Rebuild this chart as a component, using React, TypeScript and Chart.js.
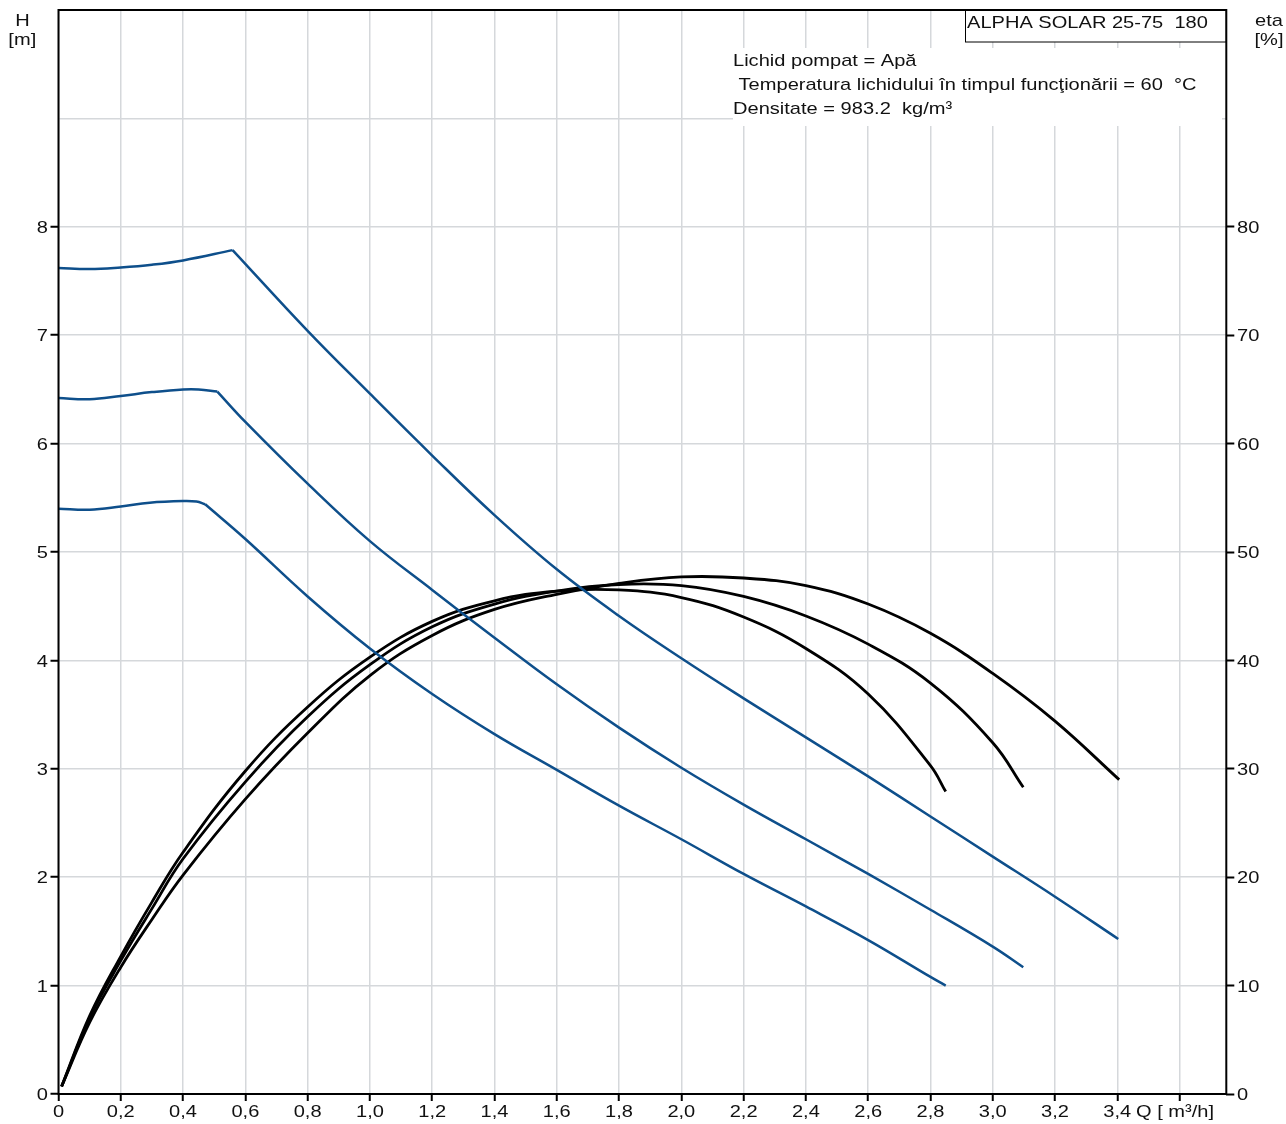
import { useEffect, useRef } from "react";
import { Chart, registerables, type ChartDataset, type Plugin } from "chart.js";

Chart.register(...registerables);

const FONT = '"Liberation Sans", Arial, Helvetica, sans-serif';
const BLUE = "#0E4F8B";
const GRID = "#D5D8DB";
const TEXT = "#111";
const STRETCH = 1.18; // the reference text is drawn wider than plain Arial

// head curves H [m] vs Q [m³/h]; first part is flat up to the knee, then falls
const h1Q = [0, 0.1, 0.2, 0.3, 0.4, 0.559, 0.8, 1.0, 1.2, 1.4, 1.6, 1.8, 2.0, 2.2, 2.4, 2.6, 2.8, 3.0, 3.2, 3.403];
const h1H = [7.62, 7.61, 7.625, 7.65, 7.69, 7.785, 7.04, 6.46, 5.89, 5.34, 4.84, 4.41, 4.02, 3.65, 3.29, 2.93, 2.56, 2.19, 1.82, 1.43];
const h1Knee = 5;

const h2Q = [0, 0.1, 0.2, 0.3, 0.4, 0.45, 0.51, 0.6, 0.8, 1.0, 1.2, 1.4, 1.6, 1.8, 2.0, 2.2, 2.4, 2.6, 2.8, 3.0, 3.098];
const h2H = [6.42, 6.41, 6.44, 6.475, 6.5, 6.5, 6.48, 6.2, 5.63, 5.1, 4.65, 4.21, 3.78, 3.38, 3.01, 2.67, 2.35, 2.03, 1.7, 1.36, 1.17];
const h2Knee = 6;

const h3Q = [0, 0.1, 0.2, 0.293, 0.4, 0.443, 0.471, 0.6, 0.8, 1.0, 1.2, 1.4, 1.6, 1.8, 2.0, 2.2, 2.4, 2.6, 2.8, 2.849];
const h3H = [5.4, 5.39, 5.42, 5.455, 5.47, 5.465, 5.44, 5.12, 4.59, 4.11, 3.69, 3.32, 2.99, 2.66, 2.35, 2.03, 1.73, 1.42, 1.08, 1.0];
const h3Knee = 6;

// efficiency curves eta [%]
const etaAQ = [0.01, 0.1, 0.2, 0.3, 0.4, 0.6, 0.8, 1.0, 1.2, 1.4, 1.6, 1.8, 2.0, 2.2, 2.4, 2.6, 2.8, 2.849];
const etaA = [0.7, 7.2, 12.7, 17.7, 22.3, 29.8, 35.7, 40.3, 43.6, 45.5, 46.4, 46.5, 45.8, 44.0, 41.1, 36.9, 30.3, 27.9];

const etaBQ = [0.01, 0.1, 0.2, 0.3, 0.4, 0.6, 0.8, 1.0, 1.2, 1.4, 1.6, 1.8, 2.0, 2.2, 2.4, 2.6, 2.8, 3.0, 3.098];
const etaB = [0.7, 7.0, 12.3, 17.1, 21.7, 28.8, 34.8, 39.6, 43.1, 45.2, 46.4, 47.0, 46.9, 45.9, 44.1, 41.5, 37.9, 32.4, 28.3];

const etaCQ = [0.01, 0.1, 0.2, 0.3, 0.4, 0.6, 0.8, 1.0, 1.2, 1.4, 1.6, 1.8, 2.0, 2.2, 2.4, 2.6, 2.8, 3.0, 3.2, 3.406];
const etaC = [0.7, 6.6, 11.7, 16.1, 20.2, 27.2, 33.3, 38.6, 42.3, 44.7, 46.1, 47.1, 47.7, 47.6, 46.9, 45.2, 42.5, 38.8, 34.4, 29.0];

const pumpTitle = "ALPHA SOLAR 25-75  180";
const infoLines = [
  "Lichid pompat = Apă",
  " Temperatura lichidului în timpul funcţionării = 60  °C",
  "Densitate = 983.2  kg/m³",
];
const qAxisTitle = "Q [ m³/h]";

function pts(qs: number[], vs: number[]) {
  return qs.map((q, i) => ({ x: q, y: vs[i] }));
}

function headSets(qs: number[], hs: number[], knee: number): ChartDataset<"line">[] {
  const base = {
    borderColor: BLUE,
    borderWidth: 2.5,
    pointRadius: 0,
    fill: false,
    tension: 0.4,
    yAxisID: "y",
  };
  return [
    { ...base, label: "H", data: pts(qs.slice(0, knee + 1), hs.slice(0, knee + 1)) },
    { ...base, label: "H", data: pts(qs.slice(knee), hs.slice(knee)) },
  ];
}

function etaSet(qs: number[], es: number[]): ChartDataset<"line"> {
  return {
    label: "eta",
    data: pts(qs, es),
    borderColor: "#000",
    borderWidth: 2.8,
    pointRadius: 0,
    fill: false,
    tension: 0.4,
    yAxisID: "y1",
  };
}

// wide text, as in the reference
function wideText(ctx: CanvasRenderingContext2D, t: string, x: number, y: number, align: CanvasTextAlign) {
  ctx.save();
  ctx.translate(x, y);
  ctx.scale(STRETCH, 1);
  ctx.textAlign = align;
  ctx.fillText(t, 0, 0);
  ctx.restore();
}

function fmtQ(v: number) {
  if (v === 0) return "0";
  return v.toFixed(1).replace(".", ",");
}

const decorations: Plugin = {
  id: "decorations",
  beforeDraw(chart) {
    const { ctx, width, height } = chart;
    ctx.save();
    ctx.fillStyle = "#fff";
    ctx.fillRect(0, 0, width, height);
    ctx.restore();
  },
  afterDraw(chart) {
    const { ctx, chartArea: a, scales } = chart;
    ctx.save();
    ctx.font = `17px ${FONT}`;
    ctx.textBaseline = "alphabetic";

    // info text block on white ground
    ctx.fillStyle = "#fff";
    ctx.fillRect(733, 48, 1222 - 733, 78);
    ctx.fillStyle = TEXT;
    infoLines.forEach((t, i) => wideText(ctx, t, 733, 65.5 + i * 24, "left"));

    // pump title box
    ctx.fillStyle = "#fff";
    ctx.fillRect(965, a.top, a.right - 965, 32);
    ctx.strokeStyle = "#000";
    ctx.lineWidth = 1;
    ctx.strokeRect(965.5, a.top, a.right - 965.5, 32);
    ctx.fillStyle = TEXT;
    wideText(ctx, pumpTitle, 967, 28.3, "left");

    // frame
    ctx.lineWidth = 2;
    ctx.strokeRect(a.left, a.top, a.right - a.left, a.bottom - a.top);

    // tick labels
    const sx = scales.x;
    sx.ticks.forEach((t) => {
      if (t.value > 3.5) return;
      wideText(ctx, fmtQ(t.value), sx.getPixelForValue(t.value), 1116.5, "center");
    });
    const sy = scales.y;
    sy.ticks.forEach((t) => {
      if (t.value > 8) return;
      wideText(ctx, String(t.value), 48, sy.getPixelForValue(t.value) + 6.1, "right");
    });
    const sy1 = scales.y1;
    sy1.ticks.forEach((t) => {
      if (t.value > 80) return;
      wideText(ctx, String(t.value), 1237, sy1.getPixelForValue(t.value) + 6.1, "left");
    });

    // axis names
    wideText(ctx, "H", 22.5, 26, "center");
    wideText(ctx, "[m]", 22.3, 44.7, "center");
    wideText(ctx, "eta", 1269, 26, "center");
    wideText(ctx, "[%]", 1269, 44.7, "center");
    wideText(ctx, qAxisTitle, 1136, 1116.5, "left");
    ctx.restore();
  },
};

function ChartView() {
  const canvasRef = useRef<HTMLCanvasElement>(null);

  useEffect(() => {
    if (!canvasRef.current) return;
    Chart.defaults.font.family = FONT;
    Chart.defaults.font.size = 17;
    Chart.defaults.color = TEXT;

    const datasets: ChartDataset<"line">[] = [
      ...headSets(h1Q, h1H, h1Knee),
      ...headSets(h2Q, h2H, h2Knee),
      ...headSets(h3Q, h3H, h3Knee),
      etaSet(etaAQ, etaA),
      etaSet(etaBQ, etaB),
      etaSet(etaCQ, etaC),
    ];

    const chart = new Chart(canvasRef.current, {
      type: "line",
      data: { datasets },
      options: {
        responsive: false,
        animation: false,
        devicePixelRatio: 1,
        layout: { padding: { top: 10, left: 0, right: 0, bottom: 0 } },
        plugins: { legend: { display: false }, tooltip: { enabled: false } },
        scales: {
          x: {
            type: "linear",
            min: 0,
            max: 3.75,
            border: { display: false },
            grid: { color: GRID, lineWidth: 1.5, tickLength: 7, tickColor: "#000", tickWidth: 2 },
            ticks: { display: false, stepSize: 0.2, includeBounds: false, autoSkip: false, maxRotation: 0 },
            afterFit: (s) => {
              s.height = 30;
              s.paddingLeft = 0;
              s.paddingRight = 0;
            },
          },
          y: {
            type: "linear",
            position: "left",
            min: 0,
            max: 10,
            border: { display: false },
            grid: {
              color: GRID,
              lineWidth: 1.5,
              tickLength: 8,
              tickWidth: 2,
              tickColor: (c) => (c.tick && c.tick.value <= 8 ? "#000" : "rgba(0,0,0,0)"),
            },
            ticks: { display: false, stepSize: 1, autoSkip: false },
            afterFit: (s) => {
              s.width = 58.5;
              s.paddingTop = 0;
              s.paddingBottom = 0;
            },
          },
          y1: {
            type: "linear",
            position: "right",
            min: 0,
            max: 100,
            border: { display: false },
            grid: {
              drawOnChartArea: false,
              tickLength: 8,
              tickWidth: 2,
              tickColor: (c) => (c.tick && c.tick.value <= 80 ? "#000" : "rgba(0,0,0,0)"),
            },
            ticks: { display: false, stepSize: 10, autoSkip: false },
            afterFit: (s) => {
              s.width = 59.7;
              s.paddingTop = 0;
              s.paddingBottom = 0;
            },
          },
        },
      },
      plugins: [decorations],
    });
    return () => {
      chart.destroy();
    };
  }, []);

  return (
    <div style={{ position: "fixed", left: 0, top: 0, width: 1286, height: 1124, background: "#fff" }}>
      <canvas ref={canvasRef} width={1286} height={1124} style={{ width: 1286, height: 1124 }} />
    </div>
  );
}

export default function App() {
  return <ChartView />;
}
